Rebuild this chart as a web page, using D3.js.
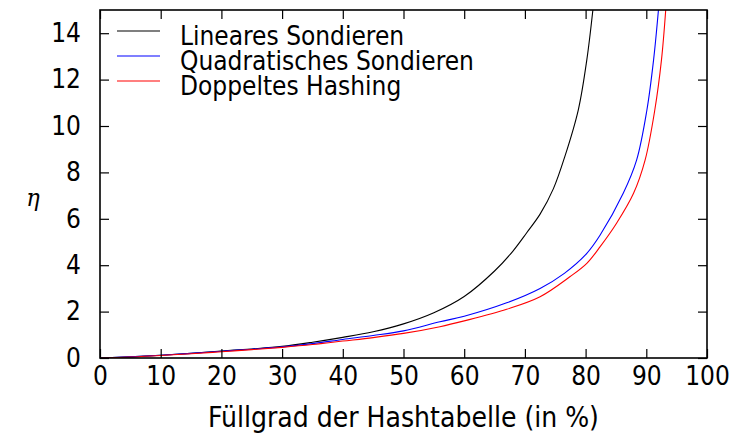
<!DOCTYPE html>
<html>
<head>
<meta charset="utf-8">
<script src="https://cdn.jsdelivr.net/npm/d3@7"></script>
<style>
  body { margin: 0; background: #fff; }
  svg text { font-family: "Liberation Sans Narrow", "DejaVu Sans Condensed", "Liberation Sans", sans-serif; font-stretch: condensed; }
</style>
</head>
<body>
<div id="app"></div>
<script>
// Füllgrad in %, eta-Werte je Verfahren
const linLoad = [0, 5, 10, 15, 20, 25, 30, 35, 40, 45, 50, 55, 60, 65, 68, 70.3, 72.5, 74.7, 76.6, 78.8, 80.2, 81.2]
const linEta  = [0, 0.05, 0.12, 0.2, 0.3, 0.39, 0.5, 0.68, 0.89, 1.13, 1.47, 1.95, 2.65, 3.75, 4.6, 5.4, 6.2, 7.3, 8.7, 10.7, 12.85, 15]

const quadLoad = [0, 5, 10, 15, 20, 25, 30, 35, 40, 45, 50, 56, 60, 67, 72.5, 76.5, 80.2, 82.4, 86.2, 88.4, 90.1, 91.2, 92]
const quadEta  = [0, 0.05, 0.12, 0.2, 0.29, 0.38, 0.48, 0.62, 0.8, 0.97, 1.17, 1.56, 1.8, 2.38, 3.0, 3.65, 4.51, 5.3, 7.1, 8.53, 10.69, 12.85, 15]

const dblLoad = [0, 5, 10, 15, 20, 25, 30, 35, 40, 45, 50, 56, 60, 67, 72.5, 77.4, 80.2, 82.4, 85.1, 87.9, 89.8, 91.4, 92.5, 93.2]
const dblEta  = [0, 0.04, 0.11, 0.18, 0.27, 0.36, 0.46, 0.58, 0.73, 0.88, 1.06, 1.35, 1.6, 2.1, 2.64, 3.5, 4.08, 4.8, 5.81, 7.1, 8.53, 10.69, 12.85, 15]

const seriesNames = ["Lineares Sondieren", "Quadratisches Sondieren", "Doppeltes Hashing"]
const seriesColors = ["#000000", "#0000ff", "#ff0000"]

const xTicks = [0, 10, 20, 30, 40, 50, 60, 70, 80, 90, 100]
const yTicks = [0, 2, 4, 6, 8, 10, 12, 14]

const w = 740, h = 438
const padL = 100, padR = 707, padT = 10, padB = 358
const fontSize = 26

const svg = d3.select("#app").append("svg")
  .attr("width", w).attr("height", h)

const x = d3.scaleLinear().domain([0, 100]).range([padL, padR])
const y = d3.scaleLinear().domain([0, 15]).range([padB, padT])

svg.append("defs").append("clipPath").attr("id", "clip")
  .append("rect").attr("x", padL).attr("y", padT)
  .attr("width", padR - padL).attr("height", padB - padT)

const series = [
  linLoad.map((d, i) => [d, linEta[i]]),
  quadLoad.map((d, i) => [d, quadEta[i]]),
  dblLoad.map((d, i) => [d, dblEta[i]])
]

const line = d3.line()
  .x(d => x(d[0]))
  .y(d => y(d[1]))
  .curve(d3.curveCatmullRom.alpha(0.5))

svg.append("g").attr("clip-path", "url(#clip)")
  .selectAll("path")
  .data(series)
  .enter()
  .append("path")
  .attr("d", line)
  .attr("fill", "none")
  .attr("stroke", (d, i) => seriesColors[i])
  .attr("stroke-width", 1.1)

// axes, ticks point inward, mirrored on top and right
const tickLen = 9
const xAxis = d3.axisBottom(x).tickValues(xTicks).tickSize(-tickLen).tickPadding(9)
const yAxis = d3.axisLeft(y).tickValues(yTicks).tickSize(-tickLen).tickPadding(19)
const xAxisTop = d3.axisTop(x).tickValues(xTicks).tickSize(-tickLen).tickFormat("")
const yAxisRight = d3.axisRight(y).tickValues(yTicks).tickSize(-tickLen).tickFormat("")

function style(g) {
  g.select(".domain").remove()
  g.selectAll(".tick line").attr("stroke", "#000").attr("stroke-width", 1.2)
  g.selectAll(".tick text").attr("fill", "#000").style("font-size", fontSize + "px")
}

svg.append("g").attr("transform", "translate(0," + padB + ")").call(xAxis).call(style)
svg.append("g").attr("transform", "translate(" + padL + ",0)").call(yAxis).call(style)
svg.append("g").attr("transform", "translate(0," + padT + ")").call(xAxisTop).call(style)
svg.append("g").attr("transform", "translate(" + padR + ",0)").call(yAxisRight).call(style)

svg.append("rect")
  .attr("x", padL).attr("y", padT)
  .attr("width", padR - padL).attr("height", padB - padT)
  .attr("fill", "none").attr("stroke", "#000").attr("stroke-width", 1.6)

svg.append("text")
  .attr("x", (padL + padR) / 2).attr("y", 427)
  .style("text-anchor", "middle")
  .style("font-size", "28px")
  .text("Füllgrad der Hashtabelle (in %)")

svg.append("text")
  .attr("x", 33).attr("y", 206)
  .style("text-anchor", "middle")
  .style("font-family", "'DejaVu Serif', serif")
  .style("font-style", "italic")
  .style("font-size", "25px")
  .text("η")

// legend
const legend = svg.append("g")
const legY = [31, 56, 81]
seriesNames.forEach((name, i) => {
  legend.append("line")
    .attr("x1", 117).attr("x2", 160)
    .attr("y1", legY[i]).attr("y2", legY[i])
    .attr("stroke", seriesColors[i]).attr("stroke-width", 1.1)
  legend.append("text")
    .attr("x", 180).attr("y", legY[i] + 14)
    .style("font-size", fontSize + "px")
    .text(name)
})
</script>
</body>
</html>
